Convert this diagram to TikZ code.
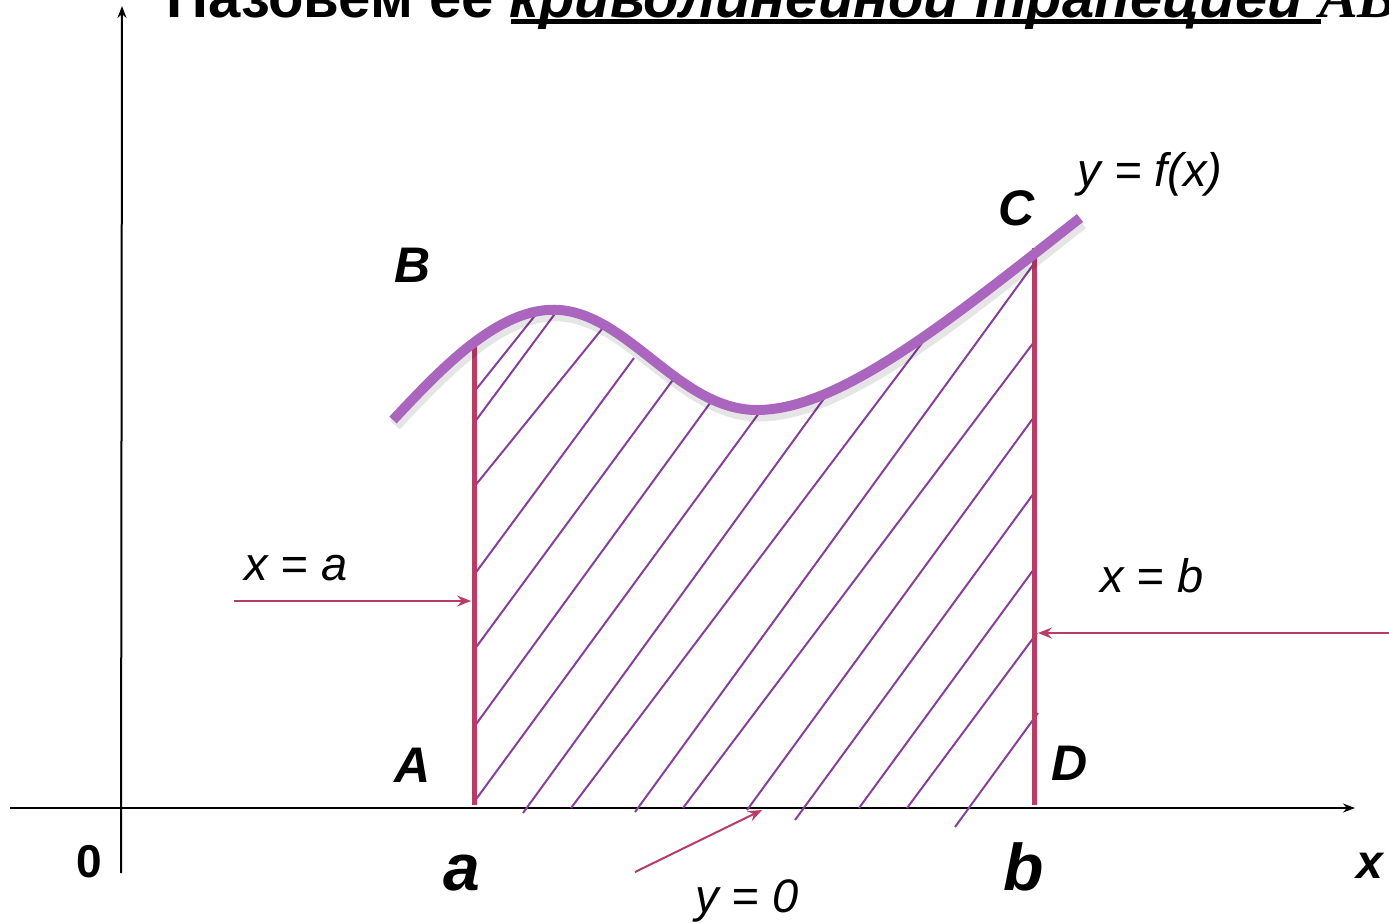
\documentclass[tikz,border=0pt]{standalone}
\usepackage{fontspec}
\setmainfont{Liberation Sans}
\newfontfamily\serifAB{Liberation Serif}
\usetikzlibrary{arrows.meta}

\definecolor{lineRed}{RGB}{185,60,100}
\definecolor{curvePurple}{RGB}{170,102,190}
\definecolor{hatchPurple}{RGB}{134,64,154}

\tikzset{
    axisline/.style={line width=2pt, -{Stealth[length=12pt, width=9pt, inset=4pt]}},
    bound/.style={line width=5pt, lineRed},
    hatch/.style={line width=2pt, hatchPurple},
    pointer/.style={line width=2pt, lineRed, -{Stealth[length=14pt, width=11pt, inset=5pt]}},
    eqn/.style={font=\fontsize{47}{56}\selectfont\itshape, inner sep=0pt, anchor=base},
    vertex/.style={font=\fontsize{50}{60}\selectfont\bfseries\itshape, inner sep=0pt, anchor=base},
    limit/.style={font=\fontsize{66}{79}\selectfont\bfseries\itshape, inner sep=0pt, anchor=base},
}

\begin{document}
\begin{tikzpicture}[x=1pt, y=-1pt]
    \useasboundingbox (0,0) rectangle (1389,922);
    \clip (0,0) rectangle (1389,922);

    % Заголовок (обрезан сверху)
    \node[anchor=base west, inner sep=0pt, font=\fontsize{58}{70}\selectfont\bfseries] (title) at (166,17)
        {Назовем ее \textit{криволинейной трапецией} {\serifAB\itshape AB}};
    \draw[line width=5pt] (511,21) -- (1321,21);

    % Оси координат
    \draw[axisline] (10,808) -- (1355,808);
    \draw[axisline] (121,873) -- (122,6);

    % Штриховка трапеции
    \foreach \xa/\ya/\xb/\yb in {474/392/537/313, 474/423/557/311, 474/487/602/329,
        474/575/634/358, 474/650/675/377, 474/727/713/399, 474/802/762/409,
        523/813/828/393, 571/808/922/343, 635/812/1033/265, 683/808/1034/342,
        747/810/1034/417, 795/820/1034/493, 859/808/1034/569, 907/808/1037/633,
        955/827/1038/713}
        \draw[hatch] (\xa,\ya) -- (\xb,\yb);

    % Прямые x = a и x = b
    \coordinate (A0) at (474,805);
    \coordinate (B0) at (474,345);
    \coordinate (D0) at (1034,805);
    \coordinate (C0) at (1034,248);
    \draw[bound] (A0) -- (B0);
    \draw[bound] (D0) -- (C0);

    % График y = f(x)
    \draw[line width=10pt, curvePurple,
        preaction={draw, black, opacity=.1, line width=13pt, transform canvas={shift={(2,5)}}}]
        (393,420) .. controls (440,370) and (500,305) .. (560,310)
        .. controls (630,316) and (680,410) .. (757,410)
        .. controls (840,410) and (950,320) .. (1080,218);

    % Стрелки-указатели
    \coordinate (xaTail) at (234,601);
    \coordinate (xaHead) at (471,601);
    \coordinate (xbTail) at (1389,633);
    \coordinate (xbHead) at (1038,633);
    \coordinate (y0Tail) at (635,872);
    \coordinate (y0Head) at (762,810);
    \draw[pointer] (xaTail) -- (xaHead);
    \draw[pointer] (xbTail) -- (xbHead);
    \draw[pointer] (y0Tail) -- (y0Head);

    % Подписи
    \node[eqn] (eqa) at (296,580) {x = a};
    \node[eqn] (eqb) at (1152,592) {x = b};
    \node[eqn] (eqf) at (1150,186) {y = f(x)};
    \node[eqn] (eq0) at (747,912) {y = 0};
    \node[vertex] (labB) at (413,282) {B};
    \node[vertex] (labC) at (1017,225) {C};
    \node[vertex] (labA) at (413,782) {A};
    \node[vertex] (labD) at (1070,780) {D};
    \node[limit] (laba) at (462,890) {a};
    \node[limit] (labb) at (1024,890) {b};
    \node[vertex, font=\fontsize{48}{58}\selectfont\bfseries\itshape] (labx) at (1370,878) {x};
    \node[anchor=base, inner sep=0pt, font=\fontsize{46}{55}\selectfont\bfseries] (lab0) at (89,877) {0};
\end{tikzpicture}
\end{document}
